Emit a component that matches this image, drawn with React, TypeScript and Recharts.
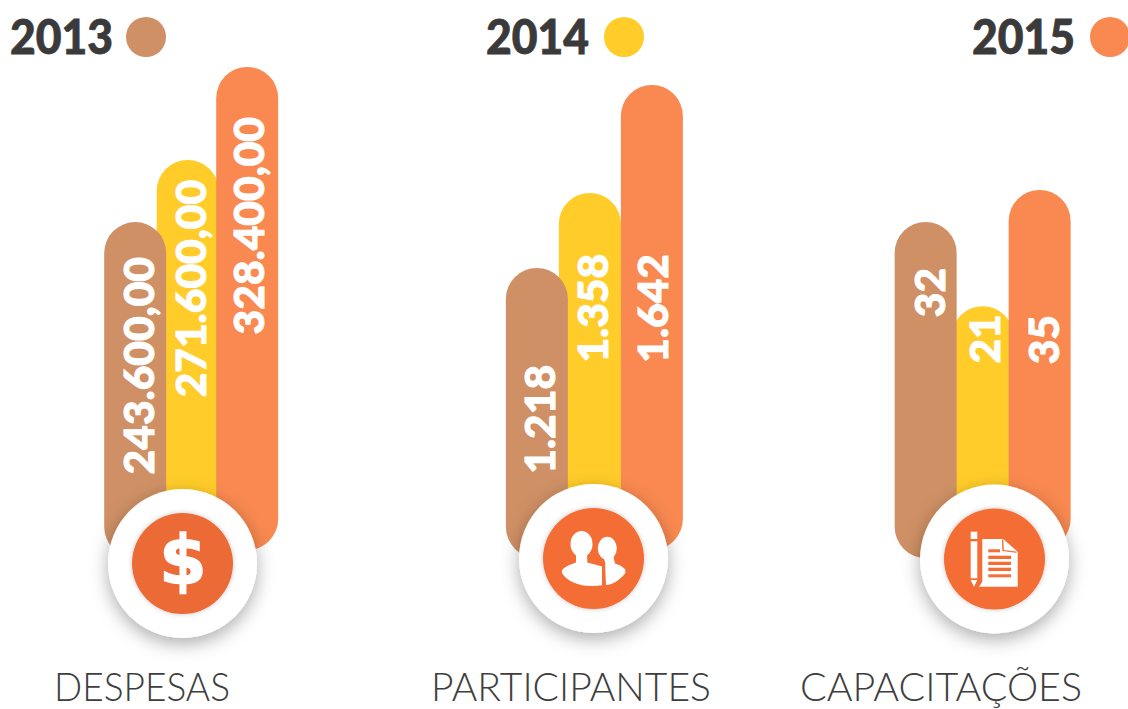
import { BarChart, Bar, XAxis, YAxis, Rectangle } from 'recharts';

// ============================================================================
// Data
// ============================================================================

const YEARS = ['2013', '2014', '2015'];

// Printed figures on each bar
const DESPESAS_LABELS = ['243.600,00', '271.600,00', '328.400,00'];
const PARTICIPANTES_LABELS = ['1.218', '1.358', '1.642'];
const CAPACITACOES_LABELS = ['32', '21', '35'];

// The bars in the picture are not drawn to the printed figures, so these are
// the lengths, in the units of each panel
const DESPESAS_LENGTHS = [223000, 265200, 328400];
const PARTICIPANTES_LENGTHS = [996, 1261, 1642];
const CAPACITACOES_LENGTHS = [31.9, 23.7, 35];

// ============================================================================
// Constants
// ============================================================================

const COLORS = ['#CF9065', '#FFCC29', '#F98950'];
const BAR_WIDTH = 62;
const BASELINE = 550;
const CHART_HEIGHT = 600;
const SIDE = 20;
const BROWN_OVERHANG = 8;
const FONT = 'Lato, "Open Sans", sans-serif';

const PANELS = [
  { labels: DESPESAS_LABELS, lengths: DESPESAS_LENGTHS, left: 107, step: 56, top: 67, yellowShift: -3.5, gaps: [35, 20, 50], textShift: [2, 2, 0] },
  { labels: PARTICIPANTES_LABELS, lengths: PARTICIPANTES_LENGTHS, left: 508, step: 57.5, top: 85, yellowShift: -4.5, gaps: [97, 61, 169], textShift: [2, 2, 0] },
  { labels: CAPACITACOES_LABELS, lengths: CAPACITACOES_LENGTHS, left: 896.5, step: 57, top: 190, yellowShift: 0, gaps: [46, 8, 125], textShift: [3, 1, 3] },
];

// Yellow is painted first so its neighbours sit on top of it
const PAINT_ORDER = [1, 0, 2];

// ============================================================================
// Components
// ============================================================================

function PillBar(props: any) {
  const { x, y, width, height, payload, seriesIndex, panel } = props;
  if (!height || height <= 0) return null;
  const left = x + (width - BAR_WIDTH) / 2 + (seriesIndex === 1 ? panel.yellowShift : 0);
  const center = left + BAR_WIDTH / 2 + panel.textShift[seriesIndex];
  const textTop = y + panel.gaps[seriesIndex];
  return (
    <g>
      <Rectangle
        x={left}
        y={y}
        width={BAR_WIDTH}
        height={height + (seriesIndex === 0 ? BROWN_OVERHANG : 0)}
        radius={31}
        fill={COLORS[seriesIndex]}
      />
      <text
        transform={`translate(${center},${textTop}) rotate(-90)`}
        textAnchor="end"
        dominantBaseline="central"
        fill="#fff"
        stroke="#fff"
        strokeWidth={1}
        fontFamily={FONT}
        fontWeight={900}
        fontSize={42.5}
      >
        {payload.label}
      </text>
    </g>
  );
}

function Panel({ panel }: { panel: (typeof PANELS)[number] }) {
  const rows = YEARS.map((year, i) => ({
    year,
    label: panel.labels[i],
    [`y${i}`]: panel.lengths[i],
  }));
  const max = Math.max(...panel.lengths);

  return (
    <div style={{ position: 'absolute', left: panel.left - SIDE, top: 0 }}>
      <BarChart
        width={panel.step * 3 + SIDE * 2}
        height={CHART_HEIGHT}
        data={rows}
        margin={{ top: panel.top, right: SIDE, bottom: CHART_HEIGHT - BASELINE, left: SIDE }}
        barSize={BAR_WIDTH}
      >
        <XAxis dataKey="year" hide />
        <YAxis hide domain={[0, max]} />
        {PAINT_ORDER.map((s) => (
          <Bar
            key={s}
            dataKey={`y${s}`}
            stackId="a"
            isAnimationActive={false}
            shape={(p: any) => <PillBar {...p} seriesIndex={s} panel={panel} />}
          />
        ))}
      </BarChart>
    </div>
  );
}

function Badge({ cx, cy, fill, children }: { cx: number; cy: number; fill: string; children: React.ReactNode }) {
  return (
    <g>
      <circle cx={cx} cy={cy} r={74.5} fill="#fff" filter="url(#ringShadow)" />
      <circle cx={cx} cy={cy} r={50.5} fill={fill} filter="url(#innerShadow)" />
      {children}
    </g>
  );
}

function LegendItem({ x, cx, year, color }: { x: number; cx: number; year: string; color: string }) {
  return (
    <g>
      <text x={x} y={54} textLength={103} lengthAdjust="spacingAndGlyphs" fontFamily={FONT} fontWeight={900} fontSize={47} fill="#3A3A3A" stroke="#3A3A3A" strokeWidth={0.8}>
        {year}
      </text>
      <circle cx={cx} cy={37} r={20} fill={color} />
    </g>
  );
}

function Title({ x, width, text }: { x: number; width: number; text: string }) {
  return (
    <text x={x} y={700.5} textLength={width} lengthAdjust="spacingAndGlyphs" fontFamily={FONT} fontWeight={300} fontSize={39} fill="#3E3E3E">
      {text}
    </text>
  );
}

// ============================================================================
// App
// ============================================================================

export default function App() {
  return (
    <div style={{ position: 'absolute', left: 0, top: 0, width: 1128, height: 709, background: '#fff', overflow: 'hidden' }}>
      {PANELS.map((panel) => (
        <Panel key={panel.labels[0]} panel={panel} />
      ))}

      <svg width={1128} height={709} style={{ position: 'absolute', left: 0, top: 0 }}>
        <defs>
          <filter id="ringShadow" x="-30%" y="-30%" width="160%" height="170%">
            <feDropShadow dx={0} dy={6} stdDeviation={9} floodColor="#000" floodOpacity={0.32} />
          </filter>
          <filter id="innerShadow" x="-20%" y="-20%" width="140%" height="140%">
            <feDropShadow dx={0} dy={0} stdDeviation={2.5} floodColor="#000" floodOpacity={0.22} />
          </filter>
        </defs>

        <LegendItem x={10} cx={146} year={YEARS[0]} color={COLORS[0]} />
        <LegendItem x={486} cx={624} year={YEARS[1]} color={COLORS[1]} />
        <LegendItem x={972} cx={1110} year={YEARS[2]} color={COLORS[2]} />

        <Badge cx={182.5} cy={563.5} fill="#EC6B35">
          <text x={183} y={584} textAnchor="middle" fontFamily='"DejaVu Sans", sans-serif' fontWeight={700} fontSize={68} fill="#fff" stroke="#fff" strokeWidth={1.5}>
            $
          </text>
        </Badge>

        <Badge cx={593.5} cy={558.5} fill="#F46D36">
          <g fill="#fff">
            <ellipse cx={581.5} cy={544} rx={11} ry={13} />
            <path d="M562,570.5 Q564,566.5 576,562.5 L576,552 L587,552 L587.3,562.5 Q597,565 602,566.5 L602,585.3 C583,588 568,583 562,573 Z" />
            <ellipse cx={607.3} cy={548.3} rx={9.5} ry={11.5} />
            <path d="M605.3,563.3 L603,555 L613,555 L615,563.5 Q622,565.5 625.3,569.5 L625.3,573.3 C619,581 612,585 606,585 L605.3,570 Z" />
          </g>
        </Badge>

        <Badge cx={994.5} cy={559} fill="#F46D36">
          <g fill="#fff">
            <rect x={970.7} y={531.7} width={6.6} height={7.3} />
            <rect x={970.7} y={541.3} width={6.6} height={37} />
            <path d="M970.7,580 L977.3,580 L974,586.7 Z" />
            <path d="M982.3,539 L1003.3,539 L1017.7,551.7 L1017.7,586.7 L979,586.7 L982.3,581.7 Z" />
          </g>
          <g fill="#F46D36">
            <path d="M1003.3,539 L1003.8,550 L1017.7,551.7 L1016,552.7 L1002.3,551 L1002,540 Z" />
            <rect x={988.3} y={549.3} width={11.7} height={3} />
            <rect x={988.3} y={555.7} width={22.7} height={3.3} />
            <rect x={988.3} y={561.7} width={22.7} height={3.3} />
            <rect x={988.3} y={567.7} width={22.7} height={3.3} />
            <rect x={988.3} y={574.3} width={22.7} height={3} />
          </g>
        </Badge>

        <Title x={54} width={176} text="DESPESAS" />
        <Title x={431} width={280} text="PARTICIPANTES" />
        <Title x={800} width={282} text="CAPACITAÇÕES" />
      </svg>
    </div>
  );
}
